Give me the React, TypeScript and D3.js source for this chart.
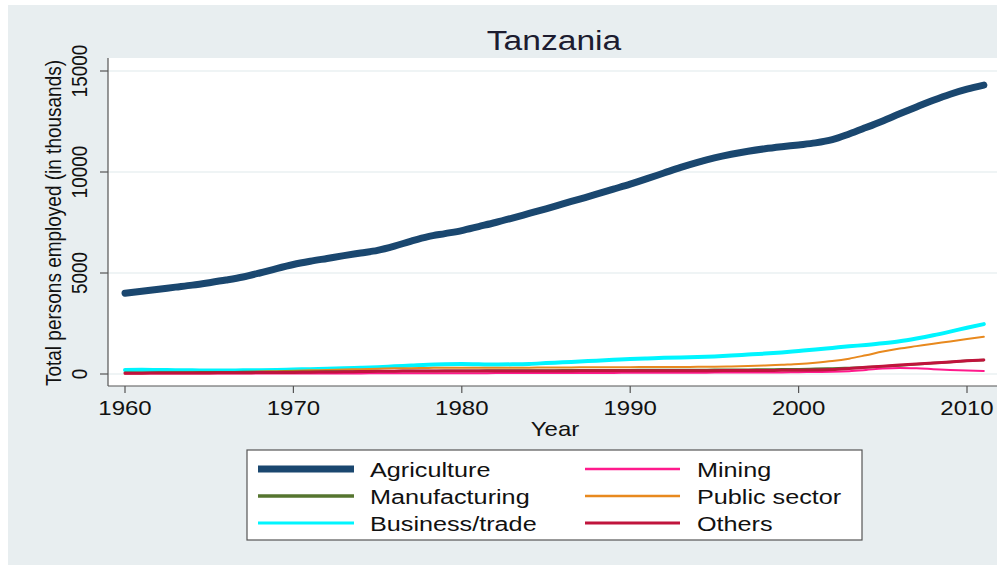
import React from "react";
import * as d3 from "d3";

const years: number[] = d3.range(1960, 2012);

const agriculture = [
  4000, 4100, 4200, 4300, 4400, 4520, 4650, 4800, 5000, 5220,
  5420, 5580, 5720, 5860, 5990, 6120, 6330, 6580, 6800, 6950,
  7100, 7300, 7500, 7720, 7950, 8180, 8420, 8660, 8900, 9150,
  9400, 9670, 9950, 10230, 10480, 10700, 10880, 11030, 11150, 11250,
  11340, 11440, 11600, 11880, 12200, 12530, 12880, 13220, 13550, 13850,
  14100, 14300,
];
const manufacturing = [
  60, 65, 70, 75, 80, 85, 90, 95, 100, 105,
  110, 115, 120, 125, 130, 135, 140, 145, 150, 155,
  160, 165, 170, 170, 175, 175, 180, 180, 185, 190,
  190, 195, 195, 200, 200, 205, 210, 215, 220, 230,
  240, 255, 275, 300, 330, 370, 420, 480, 540, 600,
  650, 690,
];
const business = [
  200, 210, 200, 190, 180, 175, 175, 180, 190, 200,
  220, 240, 260, 280, 310, 340, 380, 420, 460, 480,
  490, 480, 470, 480, 500, 540, 580, 620, 660, 700,
  740, 770, 800, 820, 840, 870, 910, 960, 1010, 1070,
  1140, 1210, 1290, 1370, 1440, 1520, 1620, 1760, 1920, 2100,
  2290, 2470,
];
const mining = [
  20, 20, 20, 20, 20, 20, 20, 20, 20, 20,
  25, 25, 30, 30, 30, 35, 35, 40, 40, 40,
  40, 40, 45, 45, 45, 50, 50, 50, 55, 55,
  60, 60, 60, 65, 65, 70, 70, 75, 75, 80,
  90, 100, 110, 140, 200, 270, 300, 280, 240, 200,
  170, 150,
];
const publicSector = [
  30, 40, 50, 60, 70, 80, 90, 100, 120, 140,
  160, 180, 200, 220, 240, 260, 280, 290, 300, 310,
  310, 310, 310, 310, 315, 320, 325, 330, 335, 340,
  340, 345, 350, 350, 355, 360, 370, 390, 420, 460,
  500, 560, 640, 760, 930, 1110, 1260, 1380, 1500, 1610,
  1730, 1840,
];
const others = [
  40, 42, 45, 48, 50, 55, 60, 65, 70, 75,
  80, 90, 100, 110, 120, 130, 140, 145, 150, 150,
  150, 150, 150, 150, 150, 150, 150, 155, 155, 160,
  160, 160, 160, 160, 165, 165, 170, 170, 175, 180,
  190, 200, 220, 270, 330, 390, 450, 500, 550, 600,
  650, 690,
];

const seriesNames = ["Agriculture", "Manufacturing", "Business/trade", "Mining", "Public sector", "Others"];
const seriesValues = [agriculture, manufacturing, business, mining, publicSector, others];
const seriesColors = ["#1a476f", "#55752f", "#00f5ff", "#ff1a8c", "#e8891e", "#c0143c"];
const seriesWidths = [7, 2.5, 4, 2, 2, 3];
const legendWidths = [7, 3.5, 3, 2.5, 2.5, 3];
// draw order (later on top)
const drawOrder = [0, 2, 4, 1, 3, 5];

const yTicks = [0, 5000, 10000, 15000];
const xTicks = [1960, 1970, 1980, 1990, 2000, 2010];

const SX = 1.2;
const FONT = "'Liberation Sans', Arial, Helvetica, sans-serif";

export default function App() {
  const x = d3.scaleLinear().domain([1960, 2010]).range([125, 967]);
  const y = d3.scaleLinear().domain([0, 15000]).range([374, 71]);
  const plotLeft = 108, plotRight = 997, plotTop = 58, plotBottom = 386;

  const line = (vals: number[]) =>
    d3.line<number>().x((_, i) => x(years[i])).y((v) => y(v)).curve(d3.curveMonotoneX)(vals) || "";

  const legendRows = [
    [0, 3],
    [1, 4],
    [2, 5],
  ];

  const stretchText = (tx: number, ty: number, text: string, size: number, opts: any = {}) => (
    <text
      transform={`translate(${tx},${ty}) scale(${SX},1)${opts.rotate ? " rotate(-90)" : ""}`}
      fontSize={size}
      fontFamily={FONT}
      textAnchor={opts.anchor || "middle"}
      fill={opts.fill || "#111"}
    >
      {text}
    </text>
  );

  return (
    <svg width={997} height={565} style={{ position: "absolute", left: 0, top: 0 }}>
      <rect x={0} y={0} width={997} height={565} fill="#ffffff" />
      <rect x={8} y={5} width={989} height={560} fill="#e8eef0" />
      <rect x={plotLeft} y={plotTop} width={plotRight - plotLeft} height={plotBottom - plotTop} fill="#ffffff" />

      {/* gridlines */}
      {yTicks.map((t) => (
        <line key={"g" + t} x1={plotLeft} x2={plotRight} y1={y(t)} y2={y(t)} stroke="#eaf0f2" strokeWidth={1.5} />
      ))}

      {/* series */}
      {drawOrder.map((i) => (
        <path
          key={seriesNames[i]}
          d={line(seriesValues[i])}
          fill="none"
          stroke={seriesColors[i]}
          strokeWidth={seriesWidths[i]}
          strokeLinecap="round"
          strokeLinejoin="round"
        />
      ))}

      {/* axes */}
      <line x1={plotLeft} x2={plotLeft} y1={plotTop} y2={plotBottom} stroke="#555" strokeWidth={1.2} />
      <line x1={plotLeft} x2={plotRight} y1={plotBottom} y2={plotBottom} stroke="#555" strokeWidth={1.2} />
      {yTicks.map((t) => (
        <g key={"yt" + t}>
          <line x1={100} x2={plotLeft} y1={y(t)} y2={y(t)} stroke="#555" strokeWidth={1.2} />
          {stretchText(87, y(t), String(t), 19, { rotate: true })}
        </g>
      ))}
      {xTicks.map((t) => (
        <g key={"xt" + t}>
          <line x1={x(t)} x2={x(t)} y1={plotBottom} y2={393} stroke="#555" strokeWidth={1.2} />
          {stretchText(x(t), 415, String(t), 20)}
        </g>
      ))}

      {/* axis titles */}
      {stretchText(61, 223, "Total persons employed (in thousands)", 19, { rotate: true })}
      {stretchText(555, 436, "Year", 20)}

      {/* title */}
      {stretchText(554, 50, "Tanzania", 28, { fill: "#1c1c30" })}

      {/* legend */}
      <rect x={247} y={450} width={615} height={90} fill="#ffffff" stroke="#555" strokeWidth={1.2} />
      {legendRows.map((row, r) =>
        row.map((si, c) => {
          const ly = 469 + r * 27;
          const lx1 = c === 0 ? 258 : 585;
          const lx2 = c === 0 ? 354 : 680;
          const tx = c === 0 ? 370 : 697;
          return (
            <g key={seriesNames[si]}>
              <line x1={lx1} x2={lx2} y1={ly} y2={ly} stroke={seriesColors[si]} strokeWidth={legendWidths[si]} />
              {stretchText(tx, ly + 8, seriesNames[si], 21, { anchor: "start" })}
            </g>
          );
        })
      )}
    </svg>
  );
}
